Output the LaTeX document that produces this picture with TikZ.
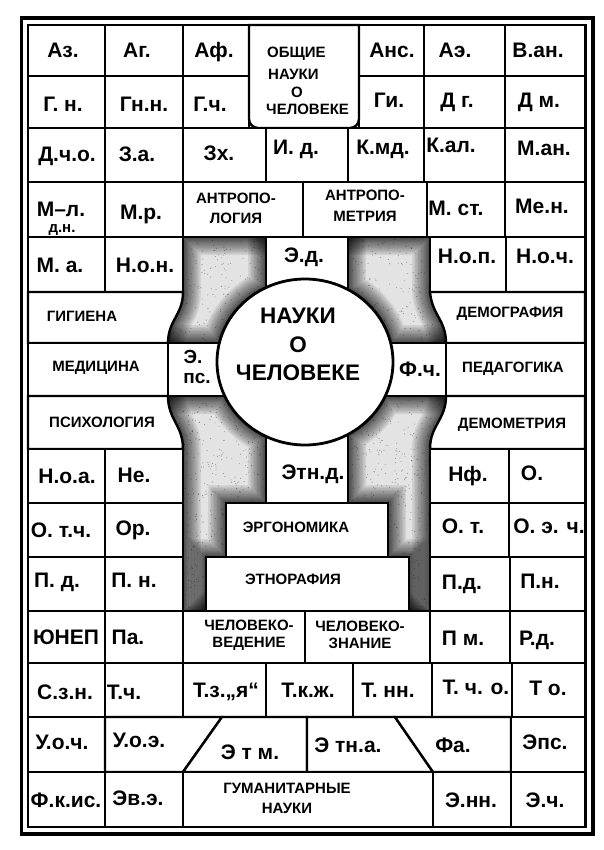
\documentclass[tikz,border=0pt]{standalone}
\usepackage{fontspec}
\setmainfont{Liberation Sans}
\tikzset{
  cell/.style={draw=black,line width=2.4pt,fill=white,line join=miter},
  ring/.style={draw=black,line width=2.8pt,fill=white},
  lab/.style={font=\fontsize{21}{23}\selectfont\bfseries,inner sep=0pt,anchor=base},
  labs/.style={font=\fontsize{19}{21}\selectfont\bfseries,inner sep=0pt,anchor=base},
  sml/.style={font=\fontsize{15}{16}\selectfont\bfseries,inner sep=0pt,anchor=base},
  smlw/.style={font=\fontsize{15}{16}\selectfont\bfseries,inner sep=0pt,anchor=base west},
  twoline/.style={font=\fontsize{15}{#1}\selectfont\bfseries,inner sep=0pt,align=center},
  bigtxt/.style={font=\fontsize{22.5}{28.5}\selectfont\bfseries,inner sep=0pt,align=center},
  shadeedge/.style={line width=#1,black,opacity=0.07},
  dot/.style={fill=black,opacity=0.35},
}
\def\Spath{(183,237) -- (430,237) -- (430,292) .. controls (432,315) and (446,320) .. (446,343) -- (446,396) .. controls (446,420) and (430,425) .. (430,449) -- (430,611) -- (183,611) -- (183,449) .. controls (183,425) and (168,420) .. (168,396) -- (168,343) .. controls (168,320) and (183,315) .. (183,292) -- cycle}
\def\Cpath{(266,237) rectangle (348,300) (266,430) rectangle (348,503) (226,503) rectangle (388,557) (206,557) rectangle (409,611) (168,343) rectangle (230,396) (380,343) rectangle (446,396) (305,362) ellipse [x radius=88, y radius=83]}
\begin{document}
\begin{tikzpicture}[x=1pt,y=-1pt]
\useasboundingbox (0,0) rectangle (604,850);
\fill[white] (0,0) rectangle (604,850);

% shaded region
\begin{scope}
\clip \Spath;
\fill[gray!22] \Spath;
\pgfmathsetseed{11}
\foreach \i in {1,...,2200}{
  \fill[dot] ({168+rnd*278},{237+rnd*374}) circle (0.55);
}
\foreach \w in {36pt,33pt,30pt,27pt,24pt,21pt,18pt,15pt,12pt,10pt,8pt,6pt,4pt,2.5pt}{
  \draw[shadeedge=\w] \Spath;
  \draw[shadeedge=\w] \Cpath;
}
\end{scope}

% central boxes
\draw[cell] (266,237) rectangle (348,300);
\draw[cell] (266,430) rectangle (348,503);
\draw[cell] (168,343) rectangle (230,396);
\draw[cell] (380,343) rectangle (446,396);
\draw[cell] (226,503) rectangle (388,557);
\draw[cell] (206,557) rectangle (409,611);
\draw[ring] (305,362) ellipse [x radius=88, y radius=83];

% row 1
\draw[cell] (28,25) rectangle (105,76);
\draw[cell] (105,25) rectangle (183,76);
\draw[cell] (183,25) rectangle (249,76);
\draw[cell] (359,25) rectangle (424,76);
\draw[cell] (424,25) rectangle (505,76);
\draw[cell] (505,25) rectangle (585,76);
% row 2
\draw[cell] (28,76) rectangle (105,128);
\draw[cell] (105,76) rectangle (183,128);
\draw[cell] (183,76) rectangle (249,128);
\draw[cell] (359,76) rectangle (424,128);
\draw[cell] (424,76) rectangle (505,128);
\draw[cell] (505,76) rectangle (585,128);
% general box
\draw[cell] (249,25) -- (249,100) [rounded corners=9pt] -- (249,128) -- (359,128) -- (359,100) [sharp corners] -- (359,25) -- cycle;
% row 3
\draw[cell] (28,128) rectangle (105,182);
\draw[cell] (105,128) rectangle (183,182);
\draw[cell] (183,128) rectangle (266,182);
\draw[cell] (266,128) rectangle (348,182);
\draw[cell] (348,128) rectangle (424,182);
\draw[cell] (424,128) rectangle (505,182);
\draw[cell] (505,128) rectangle (585,182);
% row 4
\draw[cell] (28,182) rectangle (105,237);
\draw[cell] (105,182) rectangle (183,237);
\draw[cell] (183,182) rectangle (303,237);
\draw[cell] (303,182) rectangle (427,237);
\draw[cell] (427,182) rectangle (505,237);
\draw[cell] (505,182) rectangle (585,237);
% row 5
\draw[cell] (28,237) rectangle (105,292);
\draw[cell] (105,237) rectangle (183,292);
\draw[cell] (430,237) rectangle (506,292);
\draw[cell] (506,237) rectangle (585,292);
% rows 6-8
\draw[cell] (28,292) -- (183,292) .. controls (183,315) and (168,320) .. (168,343) -- (28,343) -- cycle;
\draw[cell] (28,343) rectangle (168,396);
\draw[cell] (28,396) -- (168,396) .. controls (168,420) and (183,425) .. (183,449) -- (28,449) -- cycle;
\draw[cell] (430,292) .. controls (432,315) and (446,320) .. (446,343) -- (585,343) -- (585,292) -- cycle;
\draw[cell] (446,343) rectangle (585,396);
\draw[cell] (446,396) .. controls (446,420) and (430,425) .. (430,449) -- (585,449) -- (585,396) -- cycle;
% row 9
\draw[cell] (28,449) rectangle (105,503);
\draw[cell] (105,449) rectangle (183,503);
\draw[cell] (430,449) rectangle (509,503);
\draw[cell] (509,449) rectangle (585,503);
% row 10
\draw[cell] (28,503) rectangle (105,557);
\draw[cell] (105,503) rectangle (183,557);
\draw[cell] (430,503) rectangle (509,557);
\draw[cell] (509,503) rectangle (585,557);
% row 11
\draw[cell] (28,557) rectangle (105,611);
\draw[cell] (105,557) rectangle (183,611);
\draw[cell] (430,557) rectangle (510,611);
\draw[cell] (510,557) rectangle (585,611);
% row 12
\draw[cell] (28,611) rectangle (105,663);
\draw[cell] (105,611) rectangle (183,663);
\draw[cell] (183,611) rectangle (305,663);
\draw[cell] (305,611) rectangle (430,663);
\draw[cell] (430,611) rectangle (510,663);
\draw[cell] (510,611) rectangle (585,663);
% row 13
\draw[cell] (28,663) rectangle (105,717);
\draw[cell] (105,663) rectangle (183,717);
\draw[cell] (183,663) rectangle (266,717);
\draw[cell] (266,663) rectangle (353,717);
\draw[cell] (353,663) rectangle (432,717);
\draw[cell] (432,663) rectangle (512,717);
\draw[cell] (512,663) rectangle (585,717);
% row 14
\draw[cell] (28,717) rectangle (105,772);
\draw[cell] (105,717) -- (222,717) -- (183,772) -- (105,772) -- cycle;
\draw[cell] (222,717) -- (307,717) -- (307,772) -- (183,772) -- cycle;
\draw[cell] (307,717) -- (395,717) -- (433,772) -- (307,772) -- cycle;
\draw[cell] (395,717) -- (511,717) -- (511,772) -- (433,772) -- cycle;
\draw[cell] (511,717) rectangle (585,772);
% row 15
\draw[cell] (28,772) rectangle (105,827);
\draw[cell] (105,772) rectangle (183,827);
\draw[cell] (183,772) rectangle (433,827);
\draw[cell] (433,772) rectangle (511,827);
\draw[cell] (511,772) rectangle (585,827);

% frame
\draw[line width=3.8pt] (21.5,18) rectangle (593,834);
\draw[line width=2.2pt] (28,25) rectangle (586,827);

% labels row 1
\node[lab] (t11) at (63,58) {Аз.};
\node[lab] (t12) at (137,58) {Аг.};
\node[lab] (t13) at (214,58) {Аф.};
\node[lab] (t15) at (392,58) {Анс.};
\node[lab] (t16) at (455,58) {Аэ.};
\node[lab] (t17) at (538,58) {В.ан.};
% row 2
\node[lab] (t21) at (63,112) {Г. н.};
\node[lab] (t22) at (144,112) {Гн.н.};
\node[lab] (t23) at (210,112) {Г.ч.};
\node[lab] (t25) at (389,108) {Ги.};
\node[lab] (t26) at (457,108) {Д г.};
\node[lab] (t27) at (539,108) {Д м.};
% general
\node[smlw] (g1) at (267,58) {ОБЩИЕ};
\node[smlw] (g2) at (268,80) {НАУКИ};
\node[sml] (g3) at (297,98) {О};
\node[smlw] (g4) at (266,115) {ЧЕЛОВЕКЕ};
% row 3
\node[lab] (t31) at (67,162) {Д.ч.о.};
\node[lab] (t32) at (137,162) {З.а.};
\node[lab] (t33) at (219,161) {Зх.};
\node[lab] (t34) at (296,155) {И. д.};
\node[lab] (t35) at (383,155) {К.мд.};
\node[lab] (t36) at (451,153) {К.ал.};
\node[lab] (t37) at (544,156) {М.ан.};
% row 4
\node[lab] (t41) at (61,217) {М–л.};
\node[sml] (t41b) at (62,233) {д.н.};
\node[lab] (t42) at (141,219) {М.р.};
\node[twoline=20] (t43) at (236,208) {АНТРОПО-\\ЛОГИЯ};
\node[twoline=21] (t44) at (365,206) {АНТРОПО-\\МЕТРИЯ};
\node[lab] (t45) at (456,215) {М. ст.};
\node[lab] (t46) at (542,214) {Ме.н.};
% row 5
\node[lab] (t51) at (60,272) {М. а.};
\node[lab] (t52) at (145,272) {Н.о.н.};
\node[lab] (t53) at (304,262) {Э.д.};
\node[lab] (t54) at (467,263) {Н.о.п.};
\node[lab] (t55) at (545,263) {Н.о.ч.};
% rows 6-8
\node[sml] (t61) at (82,321) {ГИГИЕНА};
\node[sml] (t71) at (96,371) {МЕДИЦИНА};
\node[sml] (t81) at (102,427) {ПСИХОЛОГИЯ};
\node[labs] (t72) at (193,363) {Э.};
\node[labs] (t72b) at (197,383) {пс.};
\node[bigtxt] (core) at (298,344.5) {НАУКИ\\О\\ЧЕЛОВЕКЕ};
\node[lab] (t73) at (420,376) {Ф.ч.};
\node[sml] (t62) at (510,317) {ДЕМОГРАФИЯ};
\node[sml] (t74) at (513,372) {ПЕДАГОГИКА};
\node[sml] (t82) at (512,428) {ДЕМОМЕТРИЯ};
% row 9
\node[lab] (t91) at (67,483) {Н.о.а.};
\node[lab] (t92) at (134,482) {Не.};
\node[lab] (t93) at (313,479) {Этн.д.};
\node[lab] (t94) at (468,481) {Нф.};
\node[lab] (t95) at (532,480) {О.};
% row 10
\node[lab] (ta1) at (61,537) {О. т.ч.};
\node[lab] (ta2) at (133,535) {Ор.};
\node[sml] (ta3) at (296,532) {ЭРГОНОМИКА};
\node[lab] (ta4) at (463,533) {О. т.};
\node[lab] (ta5) at (549,533) {О. э. ч.};
% row 11
\node[lab] (tb1) at (57,587) {П. д.};
\node[lab] (tb2) at (134,587) {П. н.};
\node[sml] (tb3) at (293,584) {ЭТНОРАФИЯ};
\node[lab] (tb4) at (462,589) {П.д.};
\node[lab] (tb5) at (540,588) {П.н.};
% row 12
\node[lab] (tc1) at (66,644) {ЮНЕП};
\node[lab] (tc2) at (128,644) {Па.};
\node[twoline=16.5] (tc3) at (249,635) {ЧЕЛОВЕКО-\\ВЕДЕНИЕ};
\node[twoline=16.5] (tc4) at (360,635) {ЧЕЛОВЕКО-\\ЗНАНИЕ};
\node[lab] (tc5) at (463,645) {П м.};
\node[lab] (tc6) at (537,645) {Р.д.};
% row 13
\node[lab] (td1) at (65,699) {С.з.н.};
\node[lab] (td2) at (124,699) {Т.ч.};
\node[lab] (td3) at (226,697) {Т.з.„я“};
\node[lab] (td4) at (308,697) {Т.к.ж.};
\node[lab] (td5) at (388,697) {Т. нн.};
\node[lab] (td6) at (476,694) {Т. ч. о.};
\node[lab] (td7) at (548,695) {Т о.};
% row 14
\node[lab] (te1) at (62,749) {У.о.ч.};
\node[lab] (te2) at (139,747) {У.о.э.};
\node[lab] (te3) at (250,759) {Э т м.};
\node[lab] (te4) at (348,752) {Э тн.а.};
\node[lab] (te5) at (453,752) {Фа.};
\node[lab] (te6) at (545,749) {Эпс.};
% row 15
\node[lab] (tf1) at (66,807) {Ф.к.ис.};
\node[lab] (tf2) at (138,805) {Эв.э.};
\node[twoline=20] (tf3) at (287,798) {ГУМАНИТАРНЫЕ\\НАУКИ};
\node[lab] (tf4) at (471,807) {Э.нн.};
\node[lab] (tf5) at (545,807) {Э.ч.};
\end{tikzpicture}
\end{document}
